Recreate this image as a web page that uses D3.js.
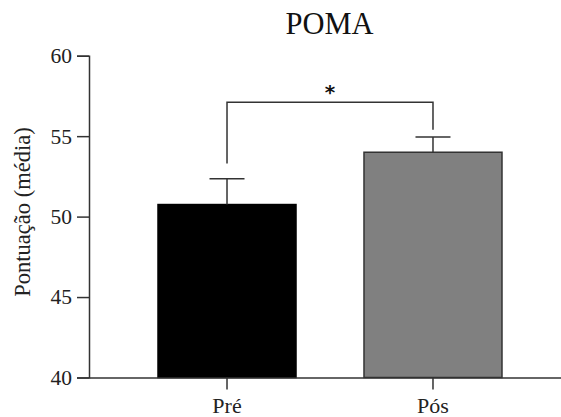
<!DOCTYPE html>
<html><head><meta charset="utf-8">
<script src="https://cdn.jsdelivr.net/npm/d3@7"></script>
<style>body{margin:0;background:#fff}svg{display:block}</style>
</head><body>
<script>
const categories = ["Pré", "Pós"];
const means = [50.75, 54.0];
const errors = [1.6, 0.95];
const fills = ["#000000", "#808080"];
const yTicks = [40, 45, 50, 55, 60];
const title = "POMA";
const yLabel = "Pontuação (média)";
const sigLabel = "*";

const SERIF = "'Liberation Serif', 'Times New Roman', serif";
const W = 561, H = 417;
const svg = d3.select("body").append("svg").attr("width", W).attr("height", H);
const y = d3.scaleLinear().domain([40, 60]).range([377.5, 55.7]);
const x = d3.scaleBand().domain(categories).range([89, 571]).paddingInner(0.33).paddingOuter(0.335);

const axisColor = "#333";
// y axis
const ya = svg.append("g").attr("transform", "translate(89,0)")
  .call(d3.axisLeft(y).tickValues(yTicks).tickSize(12).tickPadding(5));
ya.select(".domain").attr("stroke", axisColor).attr("stroke-width", 1.5);
ya.selectAll(".tick line").attr("stroke", axisColor).attr("stroke-width", 1.5);
ya.selectAll(".tick text").style("font-size", "21.5px").attr("fill", "#222").style("font-family", SERIF);

// bars
svg.selectAll("rect.bar").data(categories).enter().append("rect")
  .attr("x", d => x(d)).attr("width", x.bandwidth())
  .attr("y", (d,i) => y(means[i])).attr("height", (d,i) => y(40) - y(means[i]))
  .attr("fill", (d,i) => fills[i]).attr("stroke", (d,i) => i ? "#333" : "#000").attr("stroke-width", 1.5);

// error bars
const cx = d => x(d) + x.bandwidth()/2;
categories.forEach((c,i) => {
  const g = svg.append("g").attr("stroke", axisColor).attr("stroke-width", 1.5);
  g.append("line").attr("x1", cx(c)).attr("x2", cx(c)).attr("y1", y(means[i])).attr("y2", y(means[i]+errors[i]));
  g.append("line").attr("x1", cx(c)-17.5).attr("x2", cx(c)+17.5).attr("y1", y(means[i]+errors[i])).attr("y2", y(means[i]+errors[i]));
});

// x axis
const xa = svg.append("g").attr("transform", `translate(0,${y(40)})`)
  .call(d3.axisBottom(x).tickSize(12).tickPadding(8).tickSizeOuter(0));
xa.select(".domain").attr("stroke", axisColor).attr("stroke-width", 1.5);
xa.selectAll(".tick line").attr("stroke", axisColor).attr("stroke-width", 1.5);
xa.selectAll(".tick text").style("font-size", "22px").attr("fill", "#222").style("font-family", SERIF);

// significance bracket
svg.append("path").attr("fill", "none").attr("stroke", axisColor).attr("stroke-width", 1.5)
  .attr("d", `M${cx(categories[0])},${y(53.3)}V${y(57.1)}H${cx(categories[1])}V${y(55.4)}`);
svg.append("text").attr("x", (cx(categories[0])+cx(categories[1]))/2).attr("y", 99)
  .attr("text-anchor", "middle").style("font-size", "20px").attr("font-weight", "bold")
  .style("font-family", "'DejaVu Sans', sans-serif").attr("fill", "#111").text(sigLabel);

// title
svg.append("text").attr("x", 329.5).attr("y", 34).attr("text-anchor", "middle")
  .style("font-size", "30.5px").style("font-family", SERIF).attr("fill", "#111").text(title);

// y label
svg.append("text").attr("transform", "translate(30,212) rotate(-90)").attr("text-anchor", "middle")
  .style("font-size", "22.5px").style("font-family", SERIF).attr("fill", "#222").text(yLabel);
</script>
</body></html>
